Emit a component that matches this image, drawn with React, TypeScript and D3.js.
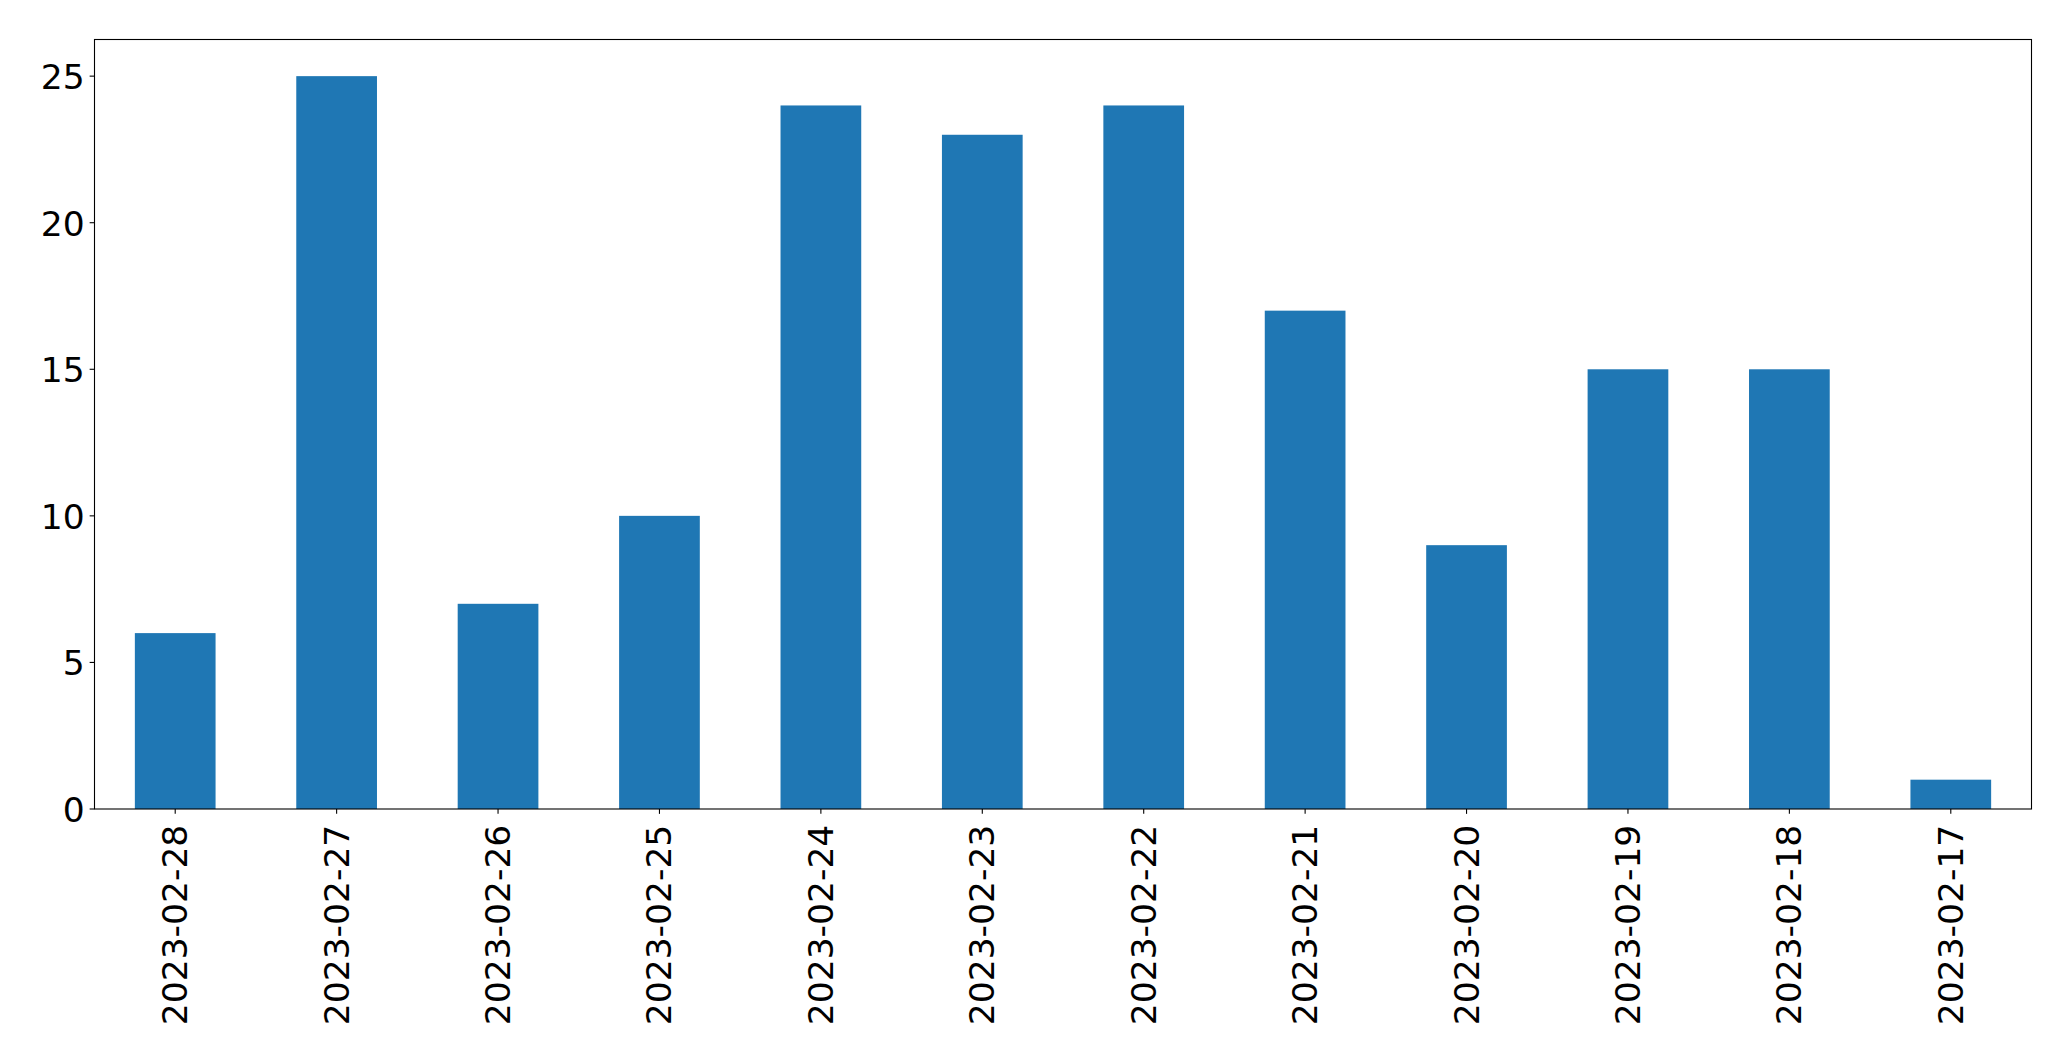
import React from "react";
import * as d3 from "d3";

const categories = ["2023-02-28","2023-02-27","2023-02-26","2023-02-25","2023-02-24","2023-02-23","2023-02-22","2023-02-21","2023-02-20","2023-02-19","2023-02-18","2023-02-17"];
const values = [6, 25, 7, 10, 24, 23, 24, 17, 9, 15, 15, 1];
const yTicks = [0, 5, 10, 15, 20, 25];

const W = 2071, H = 1061;
const L = 94.5, R = 2031.5, T = 39.5, B = 809;
const FONT = 34.5;
const TICK = 4.86;
const PAD = 4.86;

export default function App() {
  const x = d3.scaleLinear().domain([-0.5, categories.length - 0.5]).range([L, R]);
  const y = d3.scaleLinear().domain([0, 26.25]).range([B, T]);
  const bw = x(0.25) - x(-0.25);
  return (
    <svg width={W} height={H} style={{ position: "fixed", top: 0, left: 0, background: "#fff" }}
      fontFamily="DejaVu Sans" fontSize={FONT}>
      <rect x={0} y={0} width={W} height={H} fill="#fff" />
      {values.map((v, i) => (
        <rect key={i} x={x(i) - bw / 2} y={y(v)} width={bw} height={y(0) - y(v)} fill="#1f77b4" />
      ))}
      <rect x={L} y={T} width={R - L} height={B - T} fill="none" stroke="#000" strokeWidth={1.1} />
      {yTicks.map((t) => (
        <g key={t}>
          <line x1={L - TICK} x2={L} y1={y(t)} y2={y(t)} stroke="#000" strokeWidth={1.1} />
          <text x={L - TICK - PAD} y={y(t) + 1} textAnchor="end" dominantBaseline="central" fill="#000">{t}</text>
        </g>
      ))}
      {categories.map((c, i) => (
        <g key={c}>
          <line x1={x(i)} x2={x(i)} y1={B} y2={B + TICK} stroke="#000" strokeWidth={1.1} />
          <text transform={`translate(${x(i)},${B + TICK + PAD + 6}) rotate(-90)`} textAnchor="end"
            dominantBaseline="central" fill="#000">{c}</text>
        </g>
      ))}
    </svg>
  );
}
